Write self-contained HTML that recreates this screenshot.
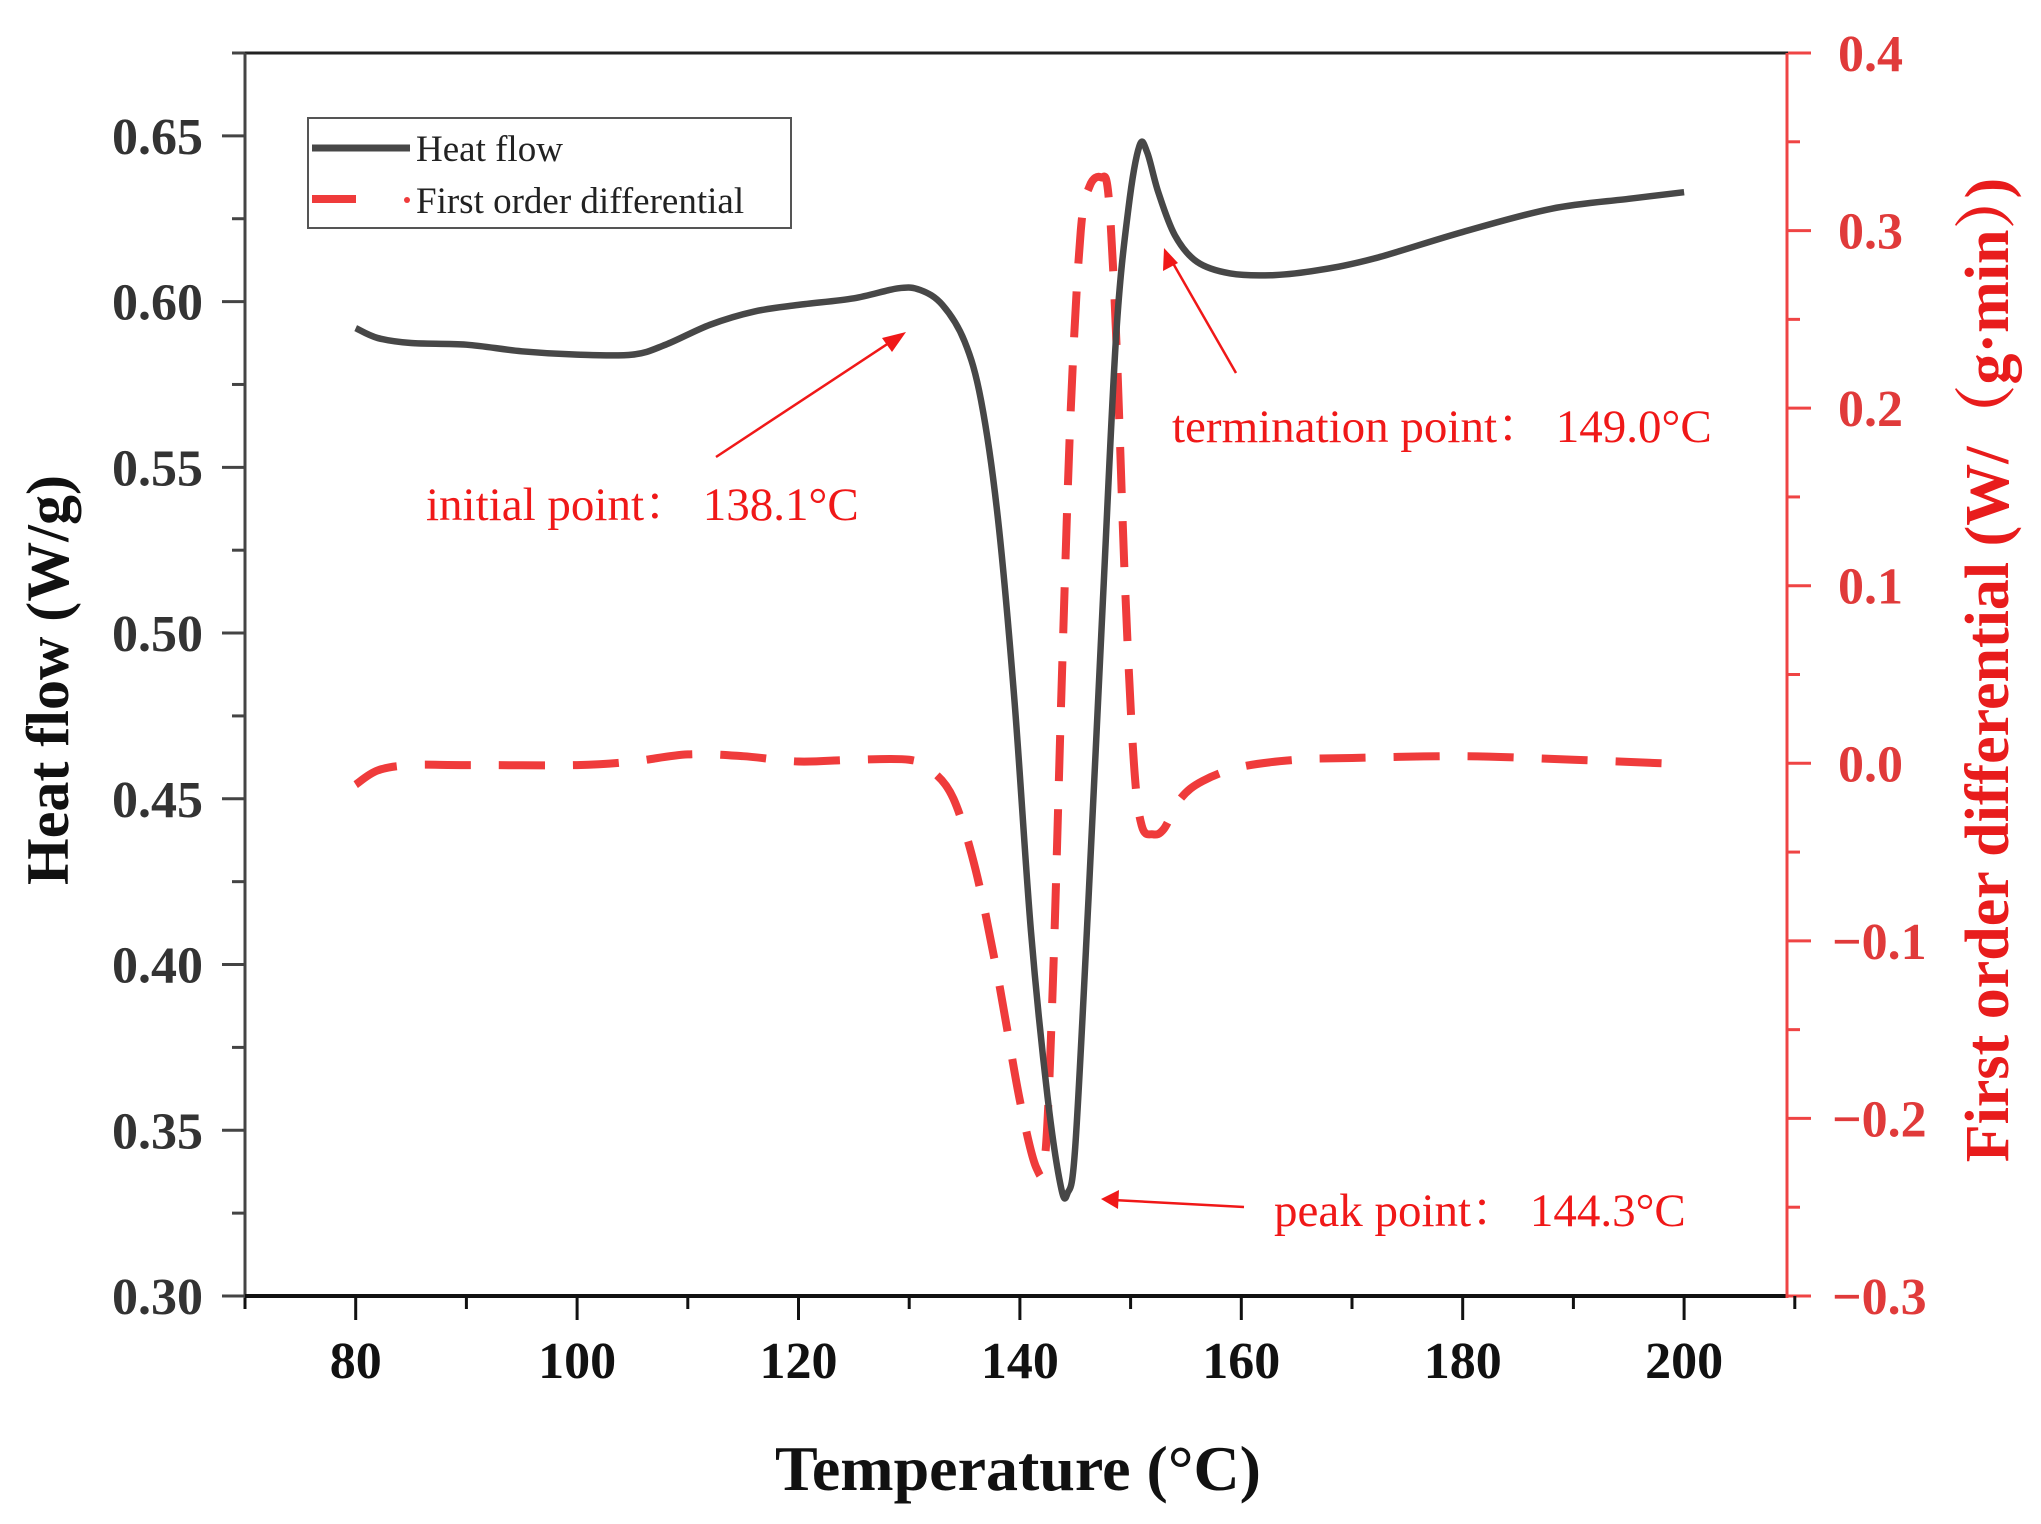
<!DOCTYPE html>
<html><head><meta charset="utf-8"><style>
html,body{margin:0;padding:0;background:#fff;}
svg{display:block;}
text{font-family:"Liberation Serif","Noto Serif CJK SC",serif;}
</style></head><body>
<svg id="s" width="2041" height="1524" viewBox="0 0 2041 1524" xmlns="http://www.w3.org/2000/svg">
<g id="ticks"></g>
<path id="deriv" fill="none" stroke="#ef3b3b" stroke-width="8" stroke-dasharray="46 28" stroke-linejoin="round"/>
<path id="heat" fill="none" stroke="#474747" stroke-width="6.5" stroke-linejoin="round"/>
<line x1="245" y1="53" x2="1788" y2="53" stroke="#222" stroke-width="3"/>
<line x1="245" y1="53" x2="245" y2="1298" stroke="#444" stroke-width="3"/>
<line x1="245" y1="1296" x2="1788" y2="1296" stroke="#111" stroke-width="4"/>
<line x1="1787" y1="53" x2="1787" y2="1298" stroke="#ef4444" stroke-width="3"/>
<g font-weight="bold" font-size="52" fill="#333" text-anchor="end" id="ylab"></g>
<g font-weight="bold" font-size="52" fill="#e03a3a" id="yrlab"></g>
<g font-weight="bold" font-size="52" fill="#111" text-anchor="middle" id="xlab"></g>
<text x="1018" y="1490" font-size="64" font-weight="bold" text-anchor="middle" fill="#111">Temperature (°C)</text>
<text transform="translate(68,680) rotate(-90)" font-size="60" font-weight="bold" text-anchor="middle" fill="#111">Heat flow (W/g)</text>
<text transform="translate(2008,670) rotate(-90)" font-size="62" font-weight="bold" text-anchor="middle" fill="#e81c1c">First order differential (W/（g·min）)</text>
<!-- legend -->
<rect x="308" y="118" width="483" height="110" fill="#fff" stroke="#555" stroke-width="2"/>
<line x1="312" y1="148" x2="410" y2="148" stroke="#474747" stroke-width="7"/>
<text x="416" y="161" font-size="37" fill="#222">Heat flow</text>
<line x1="312" y1="199" x2="356" y2="199" stroke="#ef3b3b" stroke-width="8"/>
<circle cx="407" cy="200" r="3" fill="#ef3b3b"/>
<text x="416" y="213" font-size="37" fill="#222">First order differential</text>
<!-- annotations -->
<g fill="#f01818" font-size="47">
<text x="426" y="520">initial point：  138.1°C</text>
<text x="1172" y="442">termination point：  149.0°C</text>
<text x="1274" y="1226">peak point：  144.3°C</text>
</g>
<g stroke="#f01818" stroke-width="2.5">
<line x1="716" y1="457" x2="895" y2="339"/>
<line x1="1236" y1="373" x2="1170" y2="258"/>
<line x1="1244" y1="1207" x2="1113" y2="1200"/>
</g>
<g fill="#f01818">
<polygon points="906,332 882,338 892,352"/>
<polygon points="1164,248 1163,271 1178,263"/>
<polygon points="1101,1199 1119,1190 1118,1209"/>
</g>
</svg>
<script>
var X=function(t){return 245+(t-70)*11.07;};
var YL=function(v){return 1296-(v-0.3)*3314.7;};
var YR=function(v){return 1296-(v+0.3)*1775.7;};
function path(pts,fy){var p=pts.map(function(a){return [X(a[0]),fy(a[1])];});
var d="M"+p[0][0]+","+p[0][1];
for(var i=0;i<p.length-1;i++){var p0=p[Math.max(0,i-1)],p1=p[i],p2=p[i+1],p3=p[Math.min(p.length-1,i+2)];
var c1=[p1[0]+(p2[0]-p0[0])/6,p1[1]+(p2[1]-p0[1])/6],c2=[p2[0]-(p3[0]-p1[0])/6,p2[1]-(p3[1]-p1[1])/6];
d+=" C"+c1[0]+","+c1[1]+" "+c2[0]+","+c2[1]+" "+p2[0]+","+p2[1];}return d;}
var heat=[[80,0.592],[82,0.589],[85,0.5875],[90,0.587],[95,0.585],[100,0.584],[105,0.584],[108,0.587],[112,0.593],[116,0.597],[120,0.599],[125,0.601],[129,0.604],[131,0.6035],[133,0.599],[135,0.588],[136.5,0.57],[138,0.535],[139.5,0.48],[141,0.41],[142.5,0.36],[143.7,0.333],[144.3,0.331],[145,0.345],[146.2,0.42],[147.5,0.51],[148.7,0.59],[149.8,0.628],[150.8,0.647],[151.5,0.645],[152.5,0.633],[154,0.62],[156,0.612],[159,0.6085],[163,0.608],[167,0.6095],[172,0.613],[180,0.621],[188,0.628],[195,0.631],[200,0.633]];
var der=[[80,-0.012],[82,-0.004],[85,-0.001],[90,-0.001],[100,-0.001],[105,0.001],[110,0.005],[115,0.004],[120,0.001],[125,0.002],[130,0.002],[132,-0.004],[134,-0.02],[136,-0.06],[138,-0.12],[140,-0.19],[141.5,-0.228],[142.3,-0.22],[143,-0.12],[143.8,0.05],[144.6,0.2],[145.5,0.3],[146.3,0.325],[147.3,0.33],[148,0.32],[148.7,0.24],[149.5,0.1],[150.3,0.0],[151,-0.035],[152,-0.04],[153,-0.037],[154.5,-0.02],[156.5,-0.01],[160,-0.002],[165,0.002],[170,0.003],[180,0.004],[190,0.002],[198,0.0]];
document.getElementById("heat").setAttribute("d",path(heat,YL));
document.getElementById("deriv").setAttribute("d",path(der,YR));
var ns="http://www.w3.org/2000/svg",g=document.getElementById("ticks");
function ln(x1,y1,x2,y2,c){var l=document.createElementNS(ns,"line");l.setAttribute("x1",x1);l.setAttribute("y1",y1);l.setAttribute("x2",x2);l.setAttribute("y2",y2);l.setAttribute("stroke",c);l.setAttribute("stroke-width","3");g.appendChild(l);}
function tx(id,x,y,s,a){var t=document.createElementNS(ns,"text");t.setAttribute("x",x);t.setAttribute("y",y);if(a)t.setAttribute("text-anchor",a);t.textContent=s;document.getElementById(id).appendChild(t);}
for(var i=0;i<=15;i++){var v=0.3+i*0.025,y=YL(v);ln(245,y,i%2?232:222,y,"#444");if(i%2==0)tx("ylab",203,y+18,v.toFixed(2));}
for(var i=0;i<=14;i++){var v=-0.3+i*0.05,y=YR(v);ln(1787,y,i%2?1800:1811,y,"#ef4444");if(i%2==0){var s=v.toFixed(1);if(s=="-0.0")s="0.0";s=s.replace("-","−");tx("yrlab",s[0]=="−"?1832:1838,y+18,s);}}
for(var t=70;t<=210;t+=10){var x=X(t);ln(x,1296,x,(t%20==0)?1320:1309,"#111");if(t%20==0&&t>=80&&t<=200)tx("xlab",x,1378,String(t));}
</script>
</body></html>
